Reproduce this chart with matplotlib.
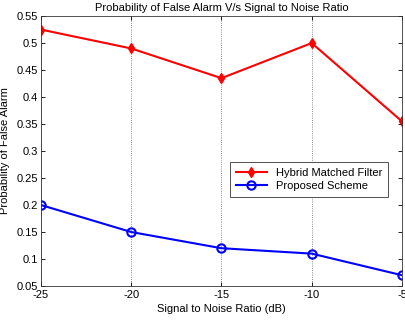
import matplotlib
matplotlib.use('Agg')
import matplotlib.pyplot as plt

snr_db = [-25, -20, -15, -10, -5]
hybrid_pfa = [0.525, 0.49, 0.435, 0.50, 0.355]
proposed_pfa = [0.20, 0.15, 0.12, 0.11, 0.07]

plt.rcParams['font.family'] = ['Liberation Sans', 'DejaVu Sans']

fig = plt.figure(figsize=(4.06, 3.28), dpi=100)
ax = fig.add_axes([0.101, 0.128, 0.889, 0.823])

ax.plot(snr_db, hybrid_pfa, color='#ff0000', lw=1.5, marker='d', ms=5,
        mfc='#ff0000', mec='#ff0000', label='Hybrid Matched Filter')
ax.plot(snr_db, proposed_pfa, color='#0000ff', lw=1.5, marker='o', ms=6,
        mfc='none', mec='#0000ff', mew=1.5, label='Proposed Scheme')

ax.set_xlim(-25, -5)
ax.set_ylim(0.05, 0.55)
ax.set_xticks(snr_db)
ax.set_xticklabels(['-25', '-20', '-15', '-10', '-5'])
ax.set_yticks([0.05, 0.1, 0.15, 0.2, 0.25, 0.3, 0.35, 0.4, 0.45, 0.5, 0.55])
ax.set_yticklabels(['0.05', '0.1', '0.15', '0.2', '0.25', '0.3', '0.35',
                    '0.4', '0.45', '0.5', '0.55'])
ax.tick_params(direction='in', length=3, labelsize=8, top=True, right=True,
               width=0.6, pad=2)
ax.tick_params(axis='x', pad=3)
ax.xaxis.grid(True, ls=':', color='#666666', lw=0.6)
for s in ax.spines.values():
    s.set_linewidth(0.6)
    s.set_color('#333333')

ax.set_xlabel('Signal to Noise Ratio (dB)', fontsize=8, labelpad=3)
ax.set_ylabel('Probability of False Alarm', fontsize=8)
ax.yaxis.set_label_coords(-0.085, 0.5)
ax.set_title('Probability of False Alarm V/s Signal to Noise Ratio', fontsize=8, pad=4)

leg = ax.legend(loc='upper right', bbox_to_anchor=(0.961, 0.459), fontsize=8,
                fancybox=False, edgecolor='#333333', framealpha=1,
                handlelength=2.8, borderpad=0.5, labelspacing=0.3,
                borderaxespad=0)
leg.get_frame().set_linewidth(0.6)

fig.savefig('out.png', dpi=100)
